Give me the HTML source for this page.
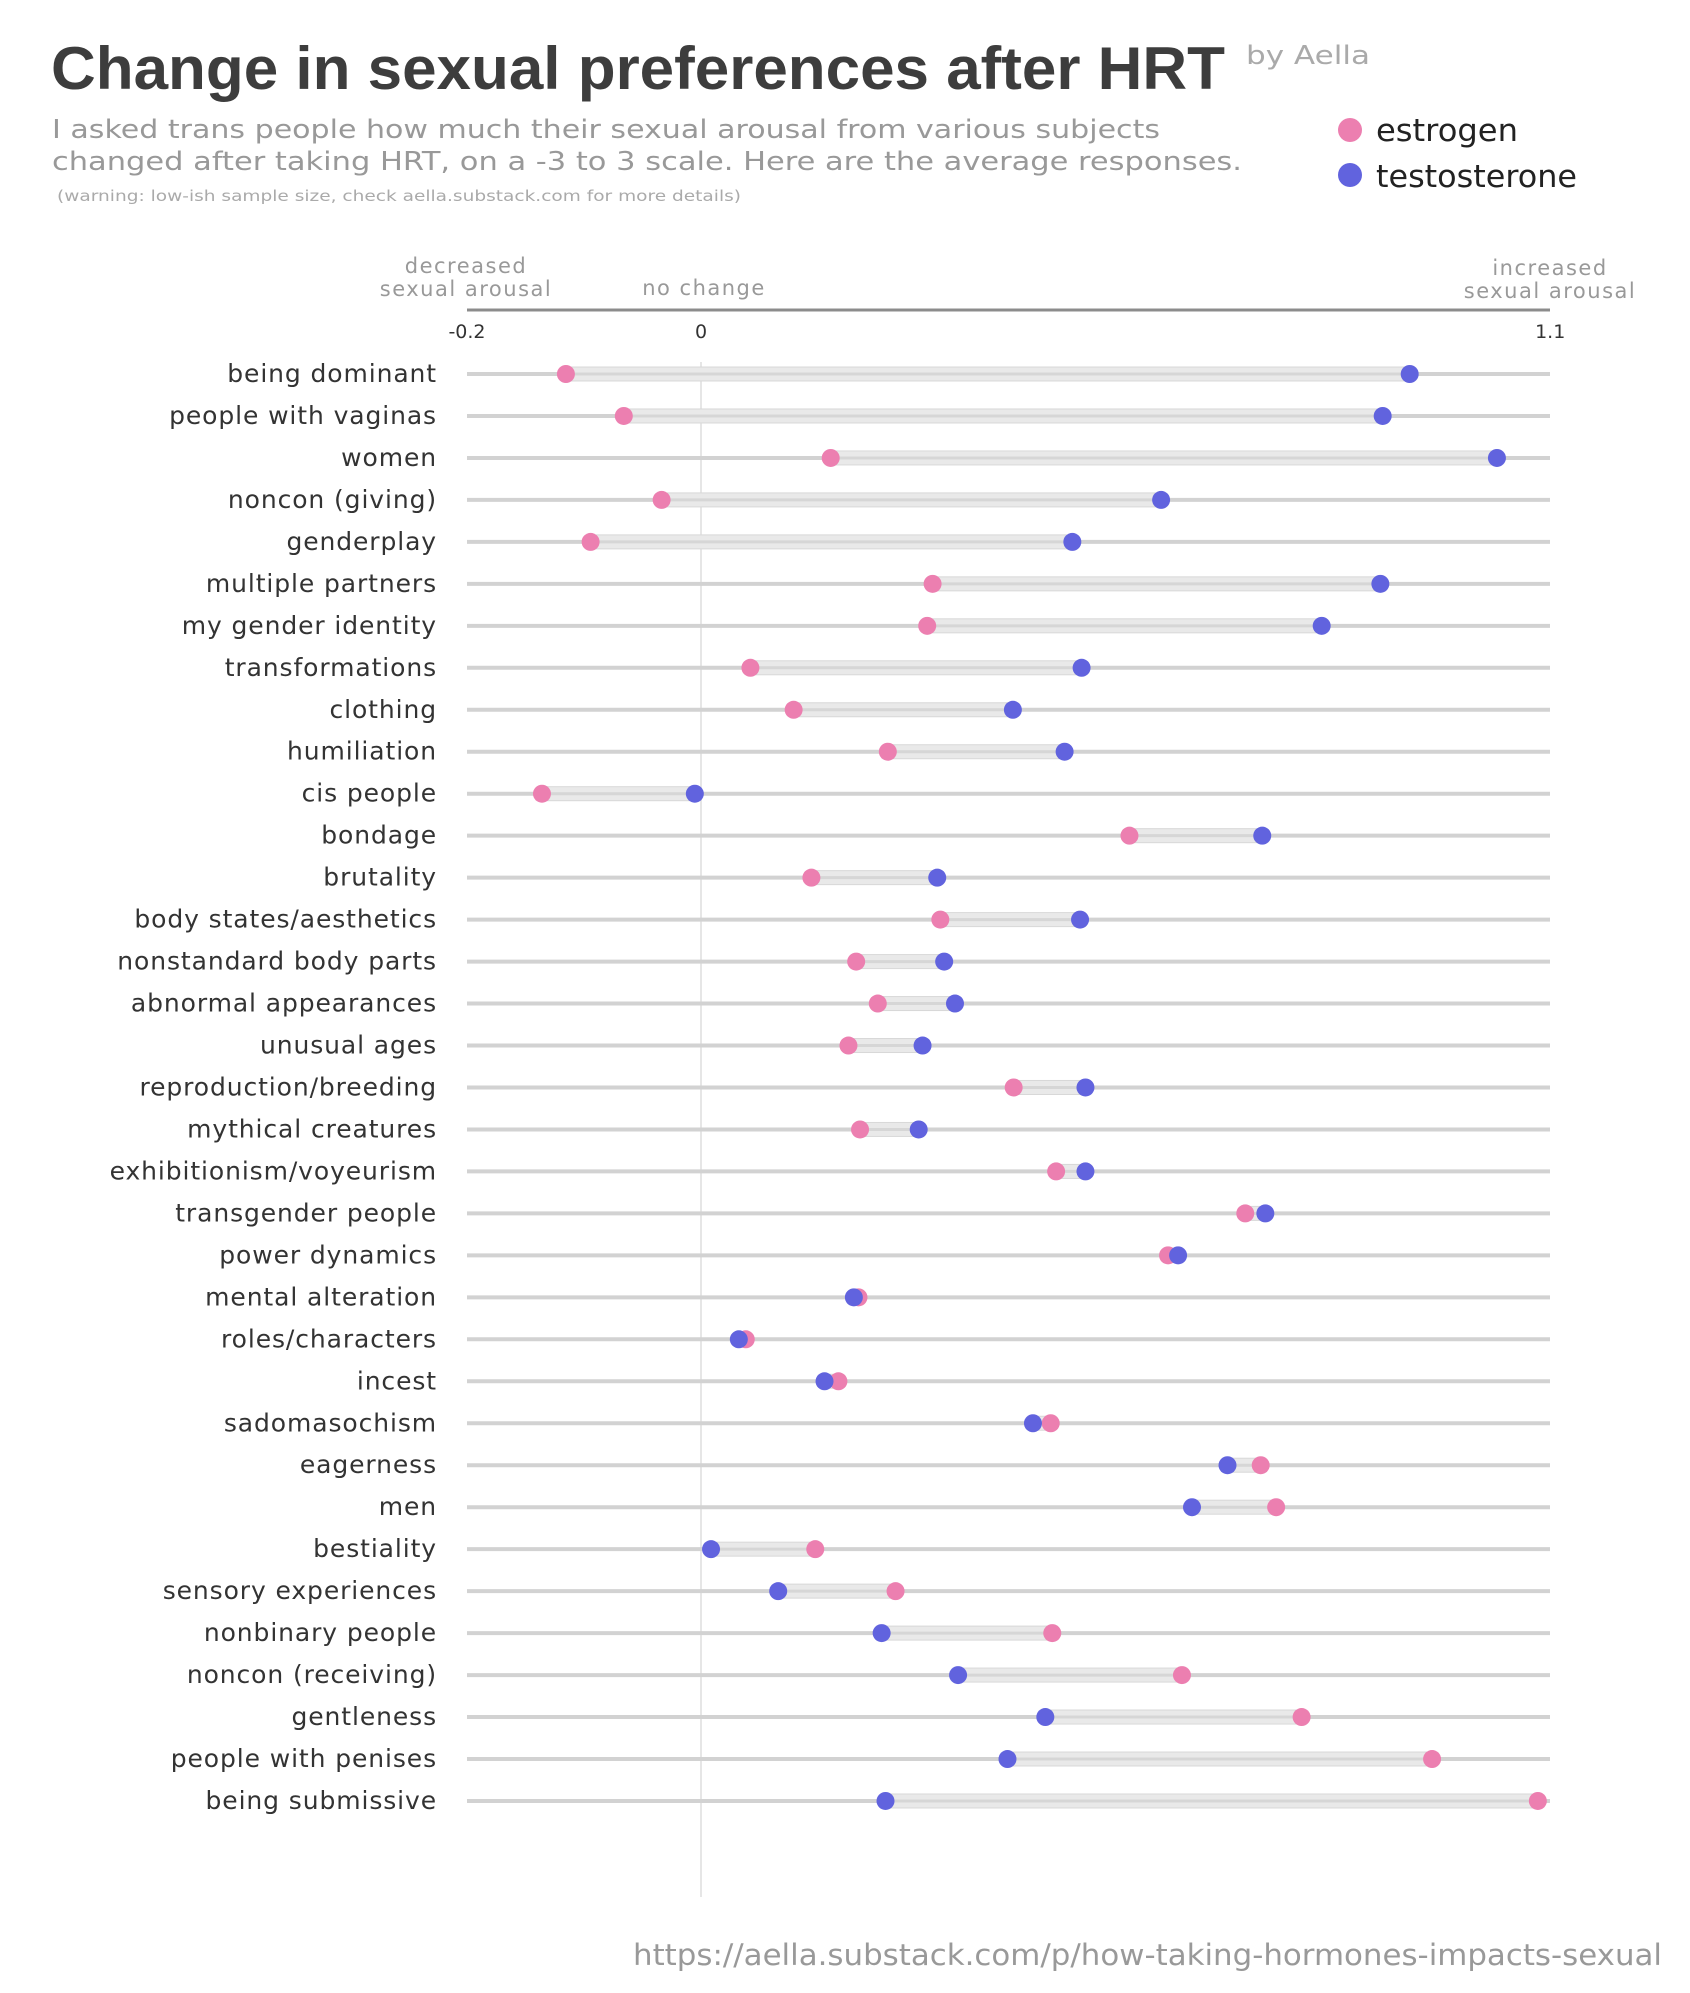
<!DOCTYPE html>
<html><head><meta charset="utf-8"><style>
html,body{margin:0;padding:0;background:#fff;}
svg{display:block;}
</style></head><body>
<svg id="chart" width="1690" height="1993" viewBox="0 0 1690 1993" xmlns="http://www.w3.org/2000/svg">
<text x="51" y="89" font-family="'Liberation Sans Narrow','Liberation Sans',sans-serif" font-weight="bold" font-size="60" fill="#3d3d3d" textLength="1174" lengthAdjust="spacingAndGlyphs">Change in sexual preferences after HRT</text>
<text x="1246" y="64" font-family="'DejaVu Sans',sans-serif" font-size="26" fill="#aaa" textLength="124" lengthAdjust="spacingAndGlyphs">by Aella</text>
<text x="52" y="138" font-family="'DejaVu Sans',sans-serif" font-size="26" fill="#999" textLength="1108" lengthAdjust="spacingAndGlyphs">I asked trans people how much their sexual arousal from various subjects</text>
<text x="52" y="170" font-family="'DejaVu Sans',sans-serif" font-size="26" fill="#999" textLength="1190" lengthAdjust="spacingAndGlyphs">changed after taking HRT, on a -3 to 3 scale. Here are the average responses.</text>
<text x="57" y="201" font-family="'DejaVu Sans',sans-serif" font-size="15" fill="#aaa" textLength="684" lengthAdjust="spacingAndGlyphs">(warning: low-ish sample size, check aella.substack.com for more details)</text>
<circle cx="1350" cy="130" r="12" fill="#ec7fb0"/>
<text x="1376" y="141" font-family="'DejaVu Sans',sans-serif" font-size="31" fill="#222" textLength="142" lengthAdjust="spacingAndGlyphs">estrogen</text>
<circle cx="1350" cy="175" r="12" fill="#6163de"/>
<text x="1376" y="187" font-family="'DejaVu Sans',sans-serif" font-size="31" fill="#222" textLength="201" lengthAdjust="spacingAndGlyphs">testosterone</text>
<g font-family="'DejaVu Sans',sans-serif" font-size="21" fill="#999" text-anchor="middle" letter-spacing="1.5">
<text x="466" y="273">decreased</text>
<text x="466" y="296">sexual arousal</text>
<text x="704" y="295">no change</text>
<text x="1550" y="275">increased</text>
<text x="1550" y="298">sexual arousal</text>
</g>
<line x1="467" y1="310" x2="1550" y2="310" stroke="#8c8c8c" stroke-width="3"/>
<g id="plot"></g>
<text x="633" y="1965" font-family="'DejaVu Sans',sans-serif" font-size="29" fill="#999" textLength="1029" lengthAdjust="spacingAndGlyphs">https://aella.substack.com/p/how-taking-hormones-impacts-sexual</text>
</svg>
<script>
const categories = ["being dominant","people with vaginas","women","noncon (giving)","genderplay","multiple partners","my gender identity","transformations","clothing","humiliation","cis people","bondage","brutality","body states/aesthetics","nonstandard body parts","abnormal appearances","unusual ages","reproduction/breeding","mythical creatures","exhibitionism/voyeurism","transgender people","power dynamics","mental alteration","roles/characters","incest","sadomasochism","eagerness","men","bestiality","sensory experiences","nonbinary people","noncon (receiving)","gentleness","people with penises","being submissive"];
const estrogen = [-0.175,-0.10,0.168,-0.051,-0.143,0.30,0.293,0.064,0.120,0.242,-0.206,0.555,0.143,0.310,0.201,0.229,0.191,0.405,0.206,0.460,0.705,0.605,0.204,0.058,0.178,0.453,0.725,0.745,0.148,0.252,0.455,0.623,0.778,0.947,1.084];
const testosterone = [0.918,0.883,1.031,0.596,0.481,0.880,0.804,0.493,0.404,0.471,-0.008,0.727,0.306,0.491,0.315,0.329,0.287,0.498,0.282,0.498,0.731,0.618,0.198,0.049,0.160,0.430,0.682,0.636,0.013,0.100,0.234,0.333,0.446,0.397,0.239];
const tickValues = [-0.2, 0, 1.1];
const tickLabels = ["-0.2","0","1.1"];

const NS = "http://www.w3.org/2000/svg";
const plot = document.getElementById('plot');
const X0 = 701, UNIT = 772, LEFT = 467, RIGHT = 1550;
function xScale(v){ if (v <= -0.2 + 1e-9 && v >= -0.2 - 1e-9) return LEFT; return X0 + v * UNIT; }
function yScale(i){ return 374 + i * 41.97; }
function mk(tag, attrs){ const e = document.createElementNS(NS, tag); for (const k in attrs) e.setAttribute(k, attrs[k]); plot.appendChild(e); return e; }

tickValues.forEach((v, i) => {
  const t = mk('text', {x: xScale(v), y: 338, 'text-anchor': 'middle', 'font-family': "'DejaVu Sans',sans-serif", 'font-size': 19, fill: '#333'});
  t.textContent = tickLabels[i];
  
  
});

const zl = mk('line', {x1: xScale(0), x2: xScale(0), y1: 362, y2: 1897, stroke: '#e6e6e6', 'stroke-width': 2});



categories.forEach((c, i) => {
  const y = yScale(i);
  const rl = mk('line', {x1: LEFT, x2: RIGHT, y1: y, y2: y, stroke: '#d2d2d2', 'stroke-width': 4});
  
  
  const lab = mk('text', {x: 437, y: y + 8, 'text-anchor': 'end', 'font-family': "'DejaVu Sans',sans-serif", 'font-size': 25, fill: '#333', 'letter-spacing': '0.9'});
  lab.textContent = c;
  
  
  const a = xScale(estrogen[i]), b = xScale(testosterone[i]);
  const lo = Math.min(a, b), hi = Math.max(a, b);
  const band = mk('rect', {x: lo, y: y - 7, width: hi - lo, height: 14, fill: '#e9e9e9', stroke: '#d8d8d8', 'stroke-width': 1});
  
  
  const st = mk('line', {x1: lo, x2: hi, y1: y, y2: y, stroke: '#d6d6d6', 'stroke-width': 3});
  
  
  const ed = mk('circle', {cx: a, cy: y, r: 9, fill: '#ec7fb0'});
  
  
  const td = mk('circle', {cx: b, cy: y, r: 9, fill: '#6163de'});
  
  
});
</script>
</body></html>
